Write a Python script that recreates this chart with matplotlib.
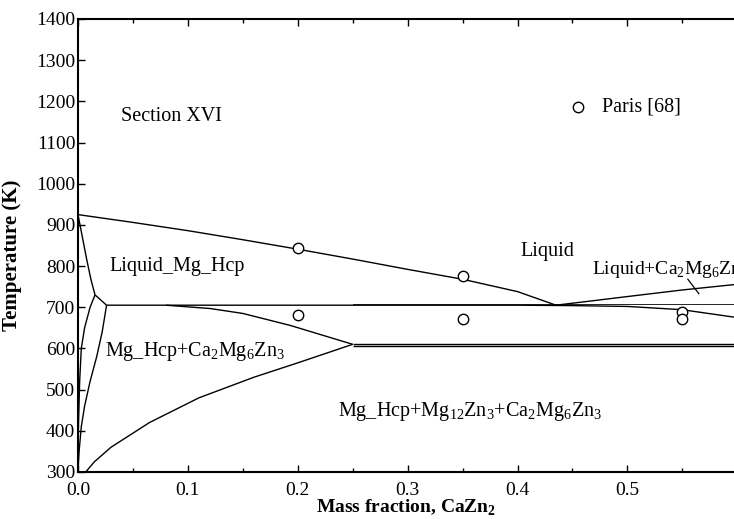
import numpy as np
import matplotlib.pyplot as plt
from matplotlib.ticker import MultipleLocator

plt.rcParams['font.family'] = ['Liberation Serif', 'DejaVu Serif']
plt.rcParams['mathtext.fontset'] = 'custom'
plt.rcParams['mathtext.rm'] = 'Liberation Serif'
plt.rcParams['mathtext.bf'] = 'Liberation Serif:bold'

# Liquidus (Liquid / Liquid_Mg_Hcp boundary)
liq_x = [0.0, 0.05, 0.10, 0.15, 0.20, 0.25, 0.30, 0.35, 0.40, 0.435]
liq_t = [925, 906, 886, 864, 841, 817, 792, 768, 738, 705]
# Liquid / Liquid+Ca2Mg6Zn3 boundary
liq2_x = [0.435, 0.50, 0.55, 0.597]
liq2_t = [705, 726, 742, 755]
# three-phase line near 705 K and its right-hand end
top_x = [0.026, 0.10, 0.20, 0.30, 0.40, 0.45, 0.50, 0.55, 0.597]
top_t = [705, 705, 705, 705, 705, 704, 702, 694, 676]
# Mg-side liquidus
mgliq_x = [0.0, 0.004, 0.008, 0.012, 0.0155]
mgliq_t = [925, 870, 815, 765, 730]
# peritectic corner
corner_x = [0.0155, 0.026]
corner_t = [730, 705]
# solvus from peak down to the Mg axis
solv1_x = [0.0155, 0.011, 0.006, 0.003, 0.0015, 0.0005, 0.0]
solv1_t = [730, 700, 650, 600, 520, 420, 330]
# Mg_Hcp / Mg_Hcp+Ca2Mg6Zn3 boundary
solv2_x = [0.026, 0.022, 0.017, 0.011, 0.006, 0.003, 0.001, 0.0]
solv2_t = [705, 640, 580, 520, 460, 410, 350, 300]
# upper boundary of the Mg_Hcp+Ca2Mg6Zn3 wedge
wedge_up_x = [0.08, 0.12, 0.15, 0.193, 0.25]
wedge_up_t = [705, 697, 685, 656, 610]
# lower boundary of the wedge
wedge_lo_x = [0.007, 0.015, 0.03, 0.065, 0.11, 0.16, 0.20, 0.25]
wedge_lo_t = [300, 325, 360, 420, 480, 530, 565, 610]
# lower three-phase line (drawn doubled)
low_x = [0.25, 0.597]
low_t1 = [610, 610]
low_t2 = [605, 605]

# Paris [68] data
paris_x = [0.20, 0.20, 0.35, 0.35, 0.55, 0.55]
paris_t = [845, 680, 777, 672, 688, 671]

fig = plt.figure(figsize=(7.34, 5.19), dpi=100)
ax = fig.add_axes([78 / 734, 0.0906, 1 - 78 / 734, 0.8728])

lw = 1.0
c = 'black'
for xs, ts in [(liq_x, liq_t), (liq2_x, liq2_t), (top_x, top_t), (mgliq_x, mgliq_t),
               (corner_x, corner_t), (solv1_x, solv1_t), (solv2_x, solv2_t),
               (wedge_up_x, wedge_up_t), (wedge_lo_x, wedge_lo_t),
               (low_x, low_t1), (low_x, low_t2)]:
    ax.plot(xs, ts, color=c, lw=lw, solid_capstyle='butt')
ax.plot([0.25, 0.597], [707, 707], color=c, lw=0.6)

ax.plot(paris_x, paris_t, 'o', mfc='white', mec='black', ms=7.5, mew=1.0, clip_on=False)
ax.plot([0.455], [1186], 'o', mfc='white', mec='black', ms=7.5, mew=1.0)
ax.text(0.477, 1186, 'Paris [68]', fontsize=14.5, va='center')

fs = 14.5
ax.text(0.085, 1164, 'Section XVI', fontsize=fs, ha='center', va='center')
ax.text(0.427, 835, 'Liquid', fontsize=fs, ha='center', va='center')
# the reference label runs off the right edge of the picture
ax.text(0.468, 791, r'Liquid+Ca$_2$Mg$_6$Zn$_3$', fontsize=14, ha='left', va='center',
        clip_on=False)
ax.plot([0.555, 0.565], [768, 733], color=c, lw=0.9)
ax.text(0.0905, 800, 'Liquid_Mg_Hcp', fontsize=fs, ha='center', va='center')
ax.text(0.0245, 592, r'Mg_Hcp+Ca$_2$Mg$_6$Zn$_3$', fontsize=fs, ha='left', va='center')
ax.text(0.237, 446, r'Mg_Hcp+Mg$_{12}$Zn$_3$+Ca$_2$Mg$_6$Zn$_3$', fontsize=fs,
        ha='left', va='center')

ax.set_xlim(0, 0.597)
ax.set_ylim(300, 1400)
ax.xaxis.set_major_locator(MultipleLocator(0.1))
ax.xaxis.set_minor_locator(MultipleLocator(0.05))
ax.yaxis.set_major_locator(MultipleLocator(100))
ax.xaxis.set_major_formatter(plt.FuncFormatter(lambda v, p: f'{v:.1f}'))
ax.tick_params(which='both', direction='in', top=True, labelsize=14, width=1.0)
ax.tick_params(which='major', length=5)
ax.tick_params(which='minor', length=3)
ax.tick_params(axis='y', pad=2)
ax.tick_params(axis='x', pad=7)
ax.spines['right'].set_visible(False)
for s in ['left', 'bottom', 'top']:
    ax.spines[s].set_linewidth(1.5)

ax.set_xlabel(r'Mass fraction, CaZn$_\mathbf{2}$', fontsize=14, fontweight='bold', labelpad=-1)
ax.set_ylabel('Temperature (K)', fontsize=15, fontweight='bold')
ax.yaxis.set_label_coords(-0.085, 0.479)

fig.savefig('out.png', dpi=100)
